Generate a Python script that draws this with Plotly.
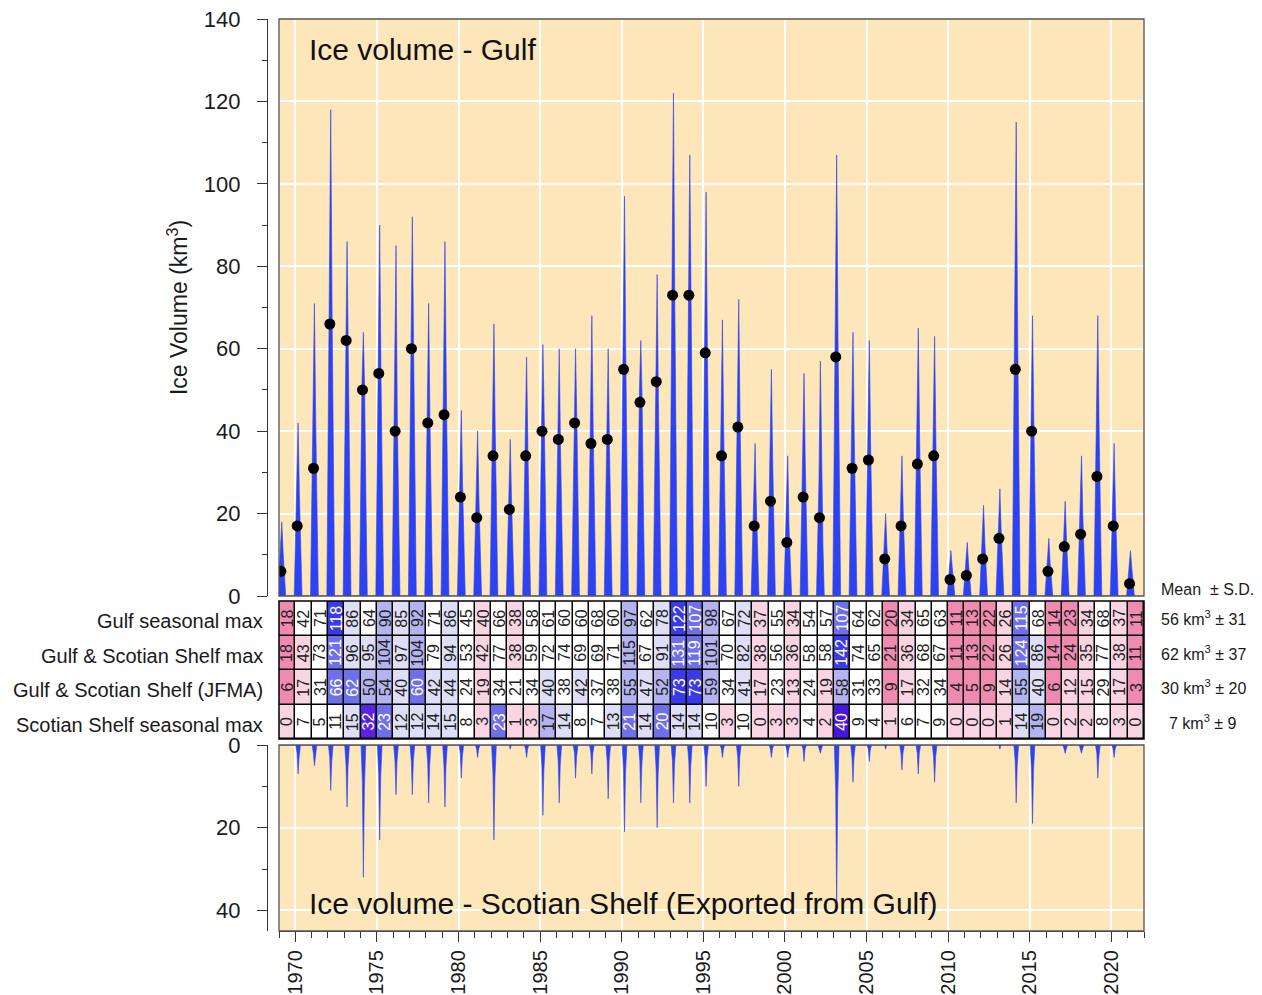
import numpy as np
import plotly.graph_objects as go

# ---------------- data ----------------
YEARS = list(range(1969, 2022))

# table rows
GULF_MAX = [18, 42, 71, 118, 86, 64, 90, 85, 92, 71, 86, 45, 40,
            66, 38, 58, 61, 60, 60, 68, 60, 97, 62, 78, 122, 107, 98,
            67, 72, 37, 55, 34, 54, 57, 107, 64, 62, 20, 34, 65, 63,
            11, 13, 22, 26, 115, 68, 14, 23, 34, 68, 37, 11]
SHELF_MAX = [18, 43, 73, 121, 96, 95, 104, 97, 104, 79, 94, 53, 42,
             77, 38, 59, 72, 74, 69, 69, 71, 115, 67, 91, 131, 119, 101,
             70, 82, 38, 56, 36, 58, 58, 142, 74, 65, 21, 36, 68, 67,
             11, 13, 22, 26, 124, 86, 14, 24, 35, 77, 38, 11]
JFMA = [6, 17, 31, 66, 62, 50, 54, 40, 60, 42, 44, 24, 19,
        34, 21, 34, 40, 38, 42, 37, 38, 55, 47, 52, 73, 73, 59,
        34, 41, 17, 23, 13, 24, 19, 58, 31, 33, 9, 17, 32, 34,
        4, 5, 9, 14, 55, 40, 6, 12, 15, 29, 17, 3]
SCOT_MAX = [0, 7, 5, 11, 15, 32, 23, 12, 12, 14, 15, 8, 3,
            23, 1, 3, 17, 14, 8, 7, 13, 21, 14, 20, 14, 14, 10,
            3, 10, 0, 3, 3, 4, 2, 40, 9, 4, 1, 6, 7, 9,
            0, 0, 0, 1, 14, 19, 0, 2, 2, 8, 3, 0]

ROW_LABELS = ["Gulf seasonal max", "Gulf & Scotian Shelf max",
              "Gulf & Scotian Shelf (JFMA)", "Scotian Shelf seasonal max"]
ROW_MEAN = [56, 62, 30, 7]
ROW_SD = [31, 37, 20, 9]

# estimated Gulf volumes (km3) through each season, around the peak
GULF_JAN1 = [5, 11, 19, 32, 28, 24, 24, 23, 25, 19, 23, 12, 11,
             18, 10, 16, 17, 16, 17, 18, 16, 26, 22, 21, 33, 30, 26,
             18, 19, 10, 15, 9, 15, 11, 29, 17, 17, 5, 9, 18, 17,
             3, 4, 6, 7, 31, 19, 4, 6, 9, 18, 10, 3]
GULF_FEB1 = [11, 26, 44, 73, 60, 52, 56, 46, 62, 44, 53, 28, 25,
             41, 24, 37, 45, 37, 44, 42, 37, 60, 50, 48, 76, 75, 61,
             42, 45, 23, 34, 18, 33, 28, 66, 40, 38, 12, 21, 40, 39,
             7, 8, 14, 16, 71, 44, 9, 14, 21, 42, 23, 7]
GULF_APR1 = [11, 25, 43, 71, 58, 50, 54, 44, 60, 43, 52, 27, 24,
             40, 23, 36, 44, 36, 43, 41, 36, 58, 48, 47, 73, 72, 59,
             40, 43, 22, 33, 17, 32, 27, 64, 38, 37, 12, 20, 39, 38,
             7, 8, 13, 16, 69, 43, 8, 14, 20, 41, 22, 7]
GULF_MAY1 = [5, 12, 20, 33, 28, 22, 25, 24, 26, 20, 24, 13, 11,
             18, 11, 17, 18, 17, 18, 19, 17, 27, 21, 22, 34, 31, 27,
             19, 20, 10, 15, 10, 15, 12, 30, 18, 17, 6, 10, 18, 18,
             3, 4, 6, 7, 32, 20, 4, 6, 10, 19, 10, 3]
# estimated Scotian Shelf volumes before / after each peak
SCOT_RISE = [0, 2, 2, 3, 5, 9, 7, 4, 4, 4, 5, 2, 1,
             7, 0, 1, 5, 4, 2, 2, 4, 6, 4, 6, 4, 4, 3,
             1, 3, 0, 1, 1, 1, 1, 11, 3, 1, 0, 2, 2, 3,
             0, 0, 0, 0, 4, 6, 0, 1, 1, 2, 1, 0]
SCOT_FALL = [0, 3, 2, 4, 5, 11, 8, 4, 4, 5, 5, 3, 1,
             8, 0, 1, 6, 5, 3, 2, 4, 7, 5, 7, 5, 5, 3,
             1, 3, 0, 1, 1, 1, 1, 13, 3, 1, 0, 2, 2, 3,
             0, 0, 0, 0, 5, 6, 0, 1, 1, 3, 1, 0]

# sampling days (relative to Jan 1 of each year)
GULF_DAYS = [-25, 0, 31, 62, 91, 121, 150]
SCOT_DAYS = [10, 40, 62, 84, 115]
DOT_DAY = 42

# ---------------- styling / layout ----------------
BG = "#FDE6B9"
AX = "#333333"
BLUE = "rgb(45,66,240)"
FONT = "Liberation Sans, Arial, Helvetica, sans-serif"
OFF = 8                       # page body margin
W, H = 1262 - OFF, 995 - OFF  # figure size so that it fits the window


def fx(px):
    return (px - OFF) / W


def fy(py):
    return 1 - (py - OFF) / H


XD = [fx(279), fx(1144)]
YPOS = fx(267)
TOP_D = [fy(596), fy(19)]
TAB_D = [fy(739), fy(601)]
BOT_D = [fy(931), fy(745)]

# ---------------- build series ----------------
gx, gy = [], []
for i, yr in enumerate(YEARS):
    vals = [0, GULF_JAN1[i], GULF_FEB1[i], GULF_MAX[i], GULF_APR1[i], GULF_MAY1[i], 0]
    for d, v in zip(GULF_DAYS, vals):
        gx.append(yr + d / 365.25)
        gy.append(v)

sx, sy = [], []
for i, yr in enumerate(YEARS):
    vals = [0, SCOT_RISE[i], SCOT_MAX[i], SCOT_FALL[i], 0]
    for d, v in zip(SCOT_DAYS, vals):
        sx.append(yr + d / 365.25)
        sy.append(v)

dot_x = [yr + DOT_DAY / 365.25 for yr in YEARS]

# ---------------- table colours (anomaly vs 1991-2020) ----------------
rows = [GULF_MAX, SHELF_MAX, JFMA, SCOT_MAX]
yrs = np.array(YEARS)
clim = (yrs >= 1991) & (yrs <= 2020)
edges = [-1.5, -1.0, -0.5, 0.5, 1.0, 1.5, 2.0, 2.5, 3.0]
COLS = ["#e8709c", "#ef8bb0", "#f9d4e2", "#ffffff", "#dedef6",
        "#b3b3ef", "#6f6fea", "#3a3ae6", "#5b22e4", "#4616dc"]
zbins = []
for r in rows:
    a = np.array(r, dtype=float)
    m, s = a[clim].mean(), a[clim].std()
    zbins.append(np.digitize((a - m) / s, edges).tolist())

n = len(COLS)
cscale = []
for k, c in enumerate(COLS):
    cscale.append([k / n, c])
    cscale.append([(k + 1) / n, c])

fig = go.Figure()

fig.add_trace(go.Scatter(x=gx, y=gy, mode="lines", fill="tozeroy",
                         line=dict(color=BLUE, width=0.6), fillcolor=BLUE,
                         xaxis="x", yaxis="y", hoverinfo="skip"))
fig.add_trace(go.Scatter(x=dot_x, y=JFMA, mode="markers",
                         marker=dict(color="black", size=11),
                         xaxis="x", yaxis="y"))
fig.add_trace(go.Heatmap(x=[yr + 0.5 for yr in YEARS], y=[0, 1, 2, 3], z=zbins,
                         colorscale=cscale, zmin=-0.5, zmax=n - 0.5,
                         showscale=False, xgap=1.5, ygap=1.5,
                         xaxis="x2", yaxis="y2", hoverinfo="skip"))
fig.add_trace(go.Scatter(x=sx, y=sy, mode="lines", fill="tozeroy",
                         line=dict(color=BLUE, width=0.6), fillcolor=BLUE,
                         xaxis="x3", yaxis="y3", hoverinfo="skip"))

annots = []
for ri, r in enumerate(rows):
    for ci, v in enumerate(r):
        annots.append(dict(x=YEARS[ci] + 0.5, y=ri, xref="x2", yref="y2",
                           xanchor="center", yanchor="middle",
                           text=str(v), showarrow=False, textangle=-90,
                           font=dict(size=16, color="white" if zbins[ri][ci] >= 6 else "#222222")))
    annots.append(dict(x=fx(265), y=ri, xref="paper", yref="y2", xanchor="right",
                       yanchor="middle", yshift=-3, text=ROW_LABELS[ri], showarrow=False,
                       font=dict(size=20, color="#1a1a1a")))
    annots.append(dict(x=fx(1203), y=ri, xref="paper", yref="y2", xanchor="center",
                       yanchor="middle",
                       text=f"{ROW_MEAN[ri]} km<sup>3</sup> ± {ROW_SD[ri]}",
                       showarrow=False, font=dict(size=16, color="#1a1a1a")))
annots.append(dict(x=fx(1207), y=fy(589), xref="paper", yref="paper",
                   xanchor="center", yanchor="middle",
                   text="Mean  ± S.D.", showarrow=False, font=dict(size=16, color="#1a1a1a")))
annots.append(dict(x=fx(307), y=fy(49), xref="paper", yref="paper", xanchor="left",
                   yanchor="middle",
                   text="Ice volume - Gulf", showarrow=False, font=dict(size=30, color="#111111")))
annots.append(dict(x=fx(307), y=fy(903), xref="paper", yref="paper", xanchor="left",
                   yanchor="middle",
                   text="Ice volume - Scotian Shelf (Exported from Gulf)", showarrow=False,
                   font=dict(size=30, color="#111111")))

yax_common = dict(anchor="free", position=YPOS, showline=True, linecolor=AX, linewidth=1.3,
                  ticks="outside", ticklen=10, tickwidth=1.3, tickcolor=AX,
                  showgrid=True, gridcolor="white", gridwidth=1.5, zeroline=False,
                  tickfont=dict(size=22, color="#1a1a1a"), ticklabelstandoff=12,
                  ticklabeloverflow="allow", automargin=False,
                  minor=dict(dtick=10, ticks="outside", ticklen=5, tickcolor=AX, showgrid=False))

fig.update_layout(
    width=W, height=H, margin=dict(l=0, r=0, t=0, b=0, autoexpand=False),
    paper_bgcolor="white", plot_bgcolor=BG, showlegend=False,
    font=dict(family=FONT, color="#1a1a1a"),
    xaxis=dict(domain=XD, range=[1969, 2022], anchor="y", showticklabels=False, ticks="",
               showgrid=True, gridcolor="white", gridwidth=1.5, tick0=1970, dtick=5,
               zeroline=False, showline=False, automargin=False),
    yaxis=dict(domain=TOP_D, range=[0, 140], dtick=20,
               title=dict(text="Ice Volume (km<sup>3</sup>)", font=dict(size=23), standoff=8),
               **yax_common),
    xaxis2=dict(domain=XD, range=[1969, 2022], anchor="y2", matches="x", visible=False),
    yaxis2=dict(domain=TAB_D, range=[3.5, -0.5], anchor="free", position=YPOS, visible=False),
    xaxis3=dict(domain=XD, range=[1969, 2022], anchor="y3", matches="x",
                showgrid=True, gridcolor="white", gridwidth=1.5, tick0=1970, dtick=5,
                ticks="outside", ticklen=10, tickwidth=1.3, tickcolor=AX,
                minor=dict(dtick=1, tick0=1969, ticks="outside", ticklen=6, tickcolor=AX, showgrid=False),
                tickangle=-90, tickfont=dict(size=20, color="#1a1a1a"), ticklabeloverflow="allow",
                showline=True, linecolor=AX, linewidth=1.3, zeroline=False, automargin=False),
    yaxis3=dict(domain=BOT_D, range=[45, 0], dtick=20, **yax_common),
    annotations=annots,
    shapes=[
        dict(type="rect", xref="x2 domain", yref="y2 domain", x0=0, x1=1, y0=0, y1=1,
             fillcolor="black", line=dict(width=0), layer="below"),
        dict(type="rect", xref="x2 domain", yref="y2 domain", x0=0, x1=1, y0=0, y1=1,
             line=dict(color="black", width=1.5), layer="above"),
        dict(type="rect", xref="x domain", yref="y domain", x0=0, x1=1, y0=0, y1=1,
             line=dict(color="#555555", width=1.3), layer="above"),
        dict(type="rect", xref="x3 domain", yref="y3 domain", x0=0, x1=1, y0=0, y1=1,
             line=dict(color="#555555", width=1.3), layer="above"),
    ],
)

fig.write_html("out.html")
